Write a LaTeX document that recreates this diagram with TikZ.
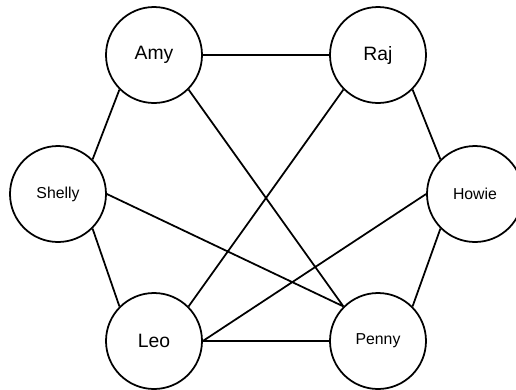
\documentclass[tikz,border=0pt]{standalone}
\usepackage{fontspec}
\setmainfont{Liberation Sans}
\begin{document}
\begin{tikzpicture}
    \tikzset{person/.style={draw,circle,line width=1pt,minimum size=1.92cm,inner sep=0pt,font=\fontsize{11pt}{13}\selectfont},
      small/.style={font=\fontsize{9pt}{11}\selectfont}}
    \useasboundingbox (0,0) rectangle (10.32,-7.78);
    \node[person] (amy) at (3.08,-1.10) {Amy};
    \node[person] (raj) at (7.56,-1.10) {Raj};
    \node[person,small] (shelly) at (1.16,-3.88) {Shelly};
    \node[person,small] (howie) at (9.50,-3.88) {Howie};
    \node[person] (leo) at (3.08,-6.82) {Leo};
    \node[person,small] (penny) at (7.56,-6.82) {Penny};
    % friendships
    \draw[line width=1pt] (amy.east)--(raj.west)
      (amy.south west)--(shelly.north east)
      (amy.south east)--(penny.north west)
      (raj.south east)--(howie.north west)
      (raj.south west)--(leo.north east)
      (shelly.south east)--(leo.north west)
      (shelly.east)--(penny.north west)
      (howie.west)--(leo.east)
      (howie.south west)--(penny.north east)
      (leo.east)--(penny.west);
\end{tikzpicture}
\end{document}
